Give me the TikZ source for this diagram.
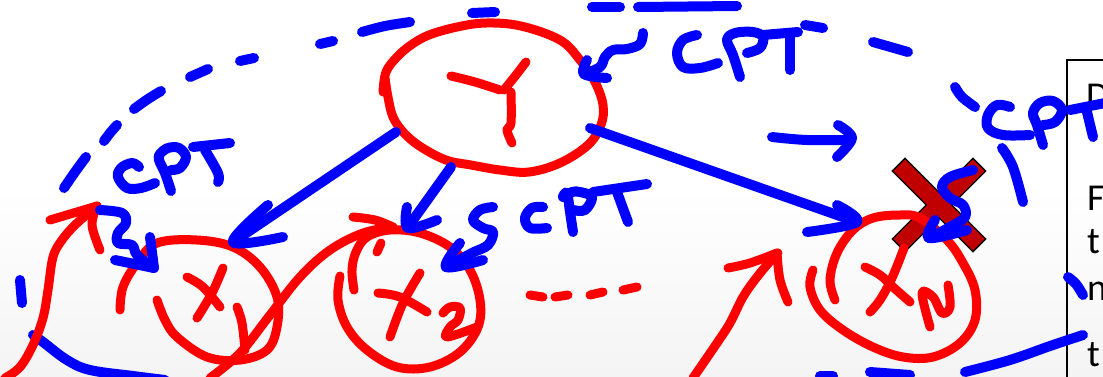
\documentclass[tikz,border=0pt]{standalone}
\usepackage{fontspec}
\setmainfont{Carlito}
\definecolor{inkblue}{RGB}{0,0,255}
\definecolor{inkred}{RGB}{255,0,0}
\definecolor{markred}{RGB}{192,0,0}
\definecolor{paperlow}{RGB}{244,244,244}
\tikzset{
  ink/.style={line cap=round, line join=round},
  blueink/.style={ink, draw=inkblue, line width=10pt},
  redink/.style={ink, draw=inkred, line width=9pt},
  boxtext/.style={anchor=base west, inner sep=0pt, font=\fontsize{38}{40}\selectfont},
}
\newcommand{\stroke}[2]{\draw[#1] plot[smooth, tension=0.6] coordinates {#2};}
\begin{document}
\begin{tikzpicture}[x=1pt,y=-1pt]
\useasboundingbox (0,0) rectangle (1103,376);
\shade[top color=white, bottom color=paperlow, middle color=white] (0,0) rectangle (1103,376);
\clip (0,0) rectangle (1103,376);

% slide text box on the right
\draw[line width=2pt] (1067,60) rectangle (1120,400);
\node[boxtext] (tD) at (1086,108) {D};
\node[boxtext] (tF) at (1087,210) {F};
\node[boxtext] (tt1) at (1087,253) {t};
\node[boxtext] (tn) at (1087,300) {n};
\node[boxtext] (tt2) at (1087,366) {t};

% crossed-out mark (drawn under the ink)
\begin{scope}[shift={(939,205)}, rotate=45]
  \filldraw[fill=markred, draw=black, line width=1.3pt]
    (-57,-9) -- (-9,-9) -- (-9,-57) -- (9,-57) -- (9,-9) -- (57,-9) --
    (57,9) -- (9,9) -- (9,57) -- (-9,57) -- (-9,9) -- (-57,9) -- cycle;
\end{scope}

% blue stroke running under the red arrow at the bottom left
\stroke{blueink}{(33,335) (43,342) (67,360) (90,370) (133,376) (165,380)}

% ---------- red ink ----------
% Y node
\stroke{redink}{(383,92) (386,72) (397,57) (411,45) (429,35) (457,27) (486,23) (521,26) (560,40) (580,60) (595,82) (603,105) (601,125) (588,145) (560,163) (529,172) (500,170) (471,165) (446,160) (421,147) (404,133) (393,117) (388,97) (385,78)}
\stroke{redink}{(451,76) (475,82) (500,90)}
\stroke{redink}{(526,62) (516,75) (504,90)}
\stroke{redink}{(511,92) (511,123) (507,130) (512,143)}

% X1 node
\stroke{redink}{(157,300) (165,320) (177,337) (207,357) (240,360) (267,350) (277,327) (277,297) (260,267) (233,247) (197,240) (157,243) (137,263) (123,287) (120,310)}
\stroke{redink}{(187,277) (203,287) (220,307)}
\stroke{redink}{(223,268) (212,293) (197,318)}
\stroke{redink}{(237,307) (242,323) (245,350)}

% X2 node
\stroke{redink}{(340,276) (338,300) (347,327) (367,350) (397,367) (430,367) (460,352) (478,327) (480,300) (470,270) (450,247) (420,233) (390,230) (367,237) (356,252) (352,270) (354,290)}
\stroke{redink}{(378,293) (400,297) (427,312)}
\stroke{redink}{(420,273) (403,303) (390,337)}
\stroke{redink}{(443,313) (450,307) (460,308) (458,320) (450,327) (447,337) (477,327)}

% XN node
\stroke{redink}{(835,300) (830,280) (837,253) (853,230) (873,218) (900,215) (920,218) (947,240) (963,263) (975,290) (975,320) (960,343) (933,357) (903,357) (873,347) (843,330) (820,310) (810,287) (813,270)}
\stroke{redink}{(865,267) (880,275) (893,287) (910,302)}
\stroke{redink}{(904,248) (892,278) (880,300) (870,312)}
\stroke{redink}{(930,327) (922,293) (933,297) (942,313) (950,307) (948,285)}

% dots between X2 and XN
\stroke{redink}{(530,295) (543,297)}
\stroke{redink}{(555,297) (568,295)}
\stroke{redink}{(590,295) (603,292)}
\stroke{redink}{(623,290) (637,287)}

% red arrows
\stroke{redink}{(5,378) (20,367) (33,345) (43,318) (48,290) (53,257) (62,240) (75,225) (90,212) (97,206)}
\stroke{redink}{(50,220) (97,206)}
\stroke{redink}{(97,206) (92,225) (100,250)}
\stroke{redink}{(210,378) (240,353) (270,315) (300,277) (330,250) (363,233) (393,227)}
\stroke{redink}{(353,217) (375,220) (393,227)}
\stroke{redink}{(377,252) (381,243)}
\stroke{redink}{(693,378) (717,343) (730,323) (743,297) (757,277) (773,258) (778,253)}
\stroke{redink}{(728,268) (750,263) (777,253)}
\stroke{redink}{(788,302) (780,280) (777,253)}

% ---------- blue ink ----------
% dashed arc over the network
\stroke{blueink}{(20,280) (22,303)}
\stroke{blueink}{(64,188) (75,172) (86,157)}
\stroke{blueink}{(104,141) (110,133) (117,125)}
\stroke{blueink}{(134,109) (148,99) (161,91)}
\stroke{blueink}{(190,77) (208,69)}
\stroke{blueink}{(240,61) (254,58)}
\stroke{blueink}{(320,44) (333,41)}
\stroke{blueink}{(362,32) (385,26) (410,22)}
\stroke{blueink}{(472,13) (495,12)}
\stroke{blueink}{(592,7) (620,7)}
\stroke{blueink}{(638,7) (737,6)}
\stroke{blueink}{(805,25) (823,28)}
\stroke{blueink}{(873,42) (908,52)}
\stroke{blueink}{(955,87) (962,97) (975,107)}
\stroke{blueink}{(1002,148) (1013,167) (1023,202)}
\stroke{blueink}{(1068,277) (1076,284) (1083,295)}
\stroke{blueink}{(965,372) (1010,360) (1050,346) (1083,335)}
\stroke{blueink}{(820,376) (833,376)}
\stroke{blueink}{(870,372) (910,375)}

% edges Y -> X1, X2, XN
\stroke{blueink}{(396,132) (233,242)}
\stroke{blueink}{(268,205) (233,242) (283,237)}
\stroke{blueink}{(451,167) (408,227)}
\stroke{blueink}{(407,207) (408,228) (437,220)}
\stroke{blueink}{(590,128) (857,222)}
\stroke{blueink}{(837,205) (857,222) (807,232)}

% short arrow above XN
\stroke{blueink}{(772,137) (807,140) (850,140)}
\stroke{blueink}{(838,125) (852,138) (837,157)}

% squiggle arrows pointing at the nodes
\stroke{blueink}{(643,33) (640,44) (627,49) (613,50) (605,57) (600,67) (584,74)}
\stroke{blueink}{(587,60) (584,74) (607,78)}
\stroke{blueink}{(100,210) (122,213) (126,223) (118,233) (118,243) (132,245) (137,255) (153,268)}
\stroke{blueink}{(150,237) (154,268)}
\stroke{blueink}{(115,260) (154,268)}
\stroke{blueink}{(493,207) (480,210) (473,220) (483,228) (493,232) (488,245) (472,253) (446,267)}
\stroke{blueink}{(460,243) (446,267) (483,260)}
\stroke{blueink}{(973,170) (950,177) (942,187) (950,198) (963,205) (965,217) (950,227) (929,238)}
\stroke{blueink}{(935,220) (929,238) (967,230)}

% handwritten CPT labels
\stroke{blueink}{(139,167) (132,163) (121,168) (118,177) (127,188) (141,188) (155,183)}
\stroke{blueink}{(171,191) (165,173) (159,160) (160,154) (168,148) (179,148) (186,157) (180,168) (171,170)}
\stroke{blueink}{(193,147) (230,143)}
\stroke{blueink}{(205,150) (218,173) (218,182)}

\stroke{blueink}{(697,35) (683,40) (677,53) (683,67) (700,68) (718,63)}
\stroke{blueink}{(740,77) (733,55) (727,40) (735,33) (753,32) (763,37) (760,48) (747,53)}
\stroke{blueink}{(763,35) (798,32)}
\stroke{blueink}{(790,35) (790,70)}

\stroke{blueink}{(543,207) (532,208) (525,218) (530,228) (547,228)}
\stroke{blueink}{(573,232) (570,212) (567,193) (563,197) (572,192) (580,192) (592,197) (585,210) (573,210)}
\stroke{blueink}{(593,192) (647,184)}
\stroke{blueink}{(617,192) (628,222)}

\stroke{blueink}{(1010,107) (997,105) (988,115) (988,128) (1003,135) (1030,135)}
\stroke{blueink}{(1043,145) (1037,125) (1033,113) (1040,103) (1053,101) (1062,110) (1055,122) (1043,125)}
\stroke{blueink}{(1070,110) (1110,102)}
\stroke{blueink}{(1087,112) (1093,137)}
\end{tikzpicture}
\end{document}
